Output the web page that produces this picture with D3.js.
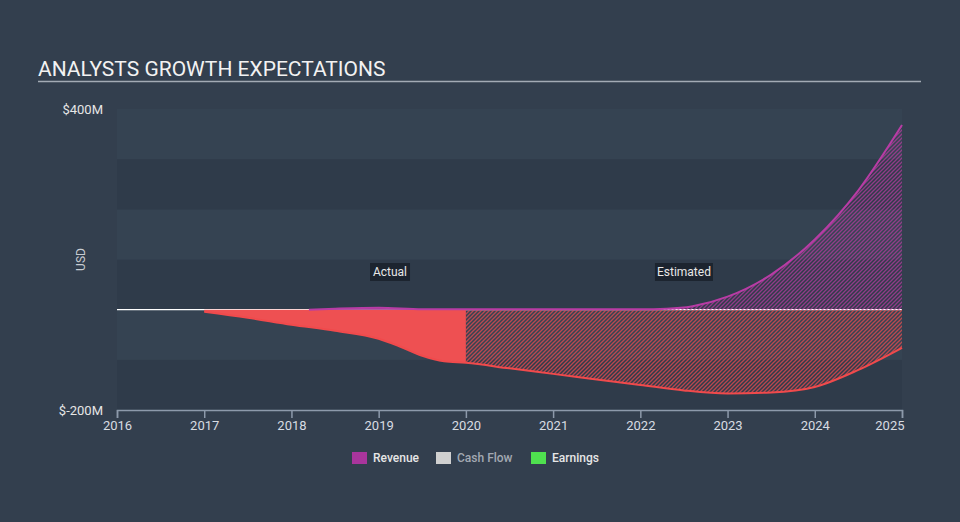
<!DOCTYPE html>
<html><head><meta charset="utf-8">
<script src="https://cdn.jsdelivr.net/npm/d3@7"></script>
<style>
html,body{margin:0;padding:0;background:#333f4e;}
svg{display:block;font-family:Roboto,"Open Sans",sans-serif;}
</style></head>
<body>
<svg id="chart" width="960" height="522"></svg>
<script>
// ---- data ----
const yearTicks = [2016,2017,2018,2019,2020,2021,2022,2023,2024,2025];
const yTickValues = [-200, 400];
const yTickLabels = ["$-200M", "$400M"];
const earningsActualYears  = [2017.0,2017.5,2018.0,2018.5,2019.0,2019.25,2019.5,2019.75,2020.0];
const earningsActualValues = [-4,-16,-30,-42,-58,-74,-92,-103,-106];
const earningsEstYears  = [2020.0,2020.5,2021.0,2021.5,2022.0,2022.5,2023.0,2023.5,2024.0,2024.5,2025.0];
const earningsEstValues = [-106,-117,-128,-139,-150,-161,-167,-165,-154,-120,-76];
const revenueActualYears  = [2018.2,2018.5,2019.0,2019.5,2020.0];
const revenueActualValues = [0,2,4,1,1];
const revenueEstYears  = [2020.0,2020.5,2021.0,2021.5,2022.0,2022.3,2022.6,2023.0,2023.5,2024.0,2024.5,2025.0];
const revenueEstValues = [1,1,1,1,1,2,7,26,70,140,238,368];
const legendItems = ["Revenue","Cash Flow","Earnings"];
const legendColors = ["#a9359c","#d0d0d0","#4fe04f"];

const svg = d3.select("#chart");
const x = d3.scaleLinear().domain([2016, 2025]).range([117, 902]);
const y = d3.scaleLinear().domain([-200, 400]).range([410, 109]);

// plot background bands
const bandEdges = d3.range(-200, 400, 100);
svg.append("g").selectAll("rect").data(bandEdges).join("rect")
  .attr("x", x(2016)).attr("width", x(2025) - x(2016))
  .attr("y", d => y(d + 100)).attr("height", d => y(d) - y(d + 100))
  .attr("fill", (d, i) => (i % 2 === 0) ? "#2f3b4a" : "#354352");

// patterns
const defs = svg.append("defs");
function hatch(id, color) {
  const p = defs.append("pattern").attr("id", id).attr("patternUnits", "userSpaceOnUse")
    .attr("width", 4).attr("height", 4);
  p.append("path").attr("d", "M-1,1 l2,-2 M0,4 l4,-4 M3,5 l2,-2")
    .attr("stroke", color).attr("stroke-width", 1.3).attr("opacity", 0.75);
}
hatch("hatchRed", "#e94a4f");
hatch("hatchPurple", "#b13a9c");

// title
svg.append("text").attr("x", 38).attr("y", 76).attr("fill", "#f2f2f2")
  .attr("font-size", 21).text("ANALYSTS GROWTH EXPECTATIONS");
svg.append("line").attr("x1", 38).attr("x2", 921).attr("y1", 81.5).attr("y2", 81.5)
  .attr("stroke", "#a3abb5").attr("stroke-width", 1.5);

// y labels
svg.append("g").selectAll("text").data(yTickValues).join("text")
  .attr("x", 103).attr("y", d => y(d)).attr("dy", "0.35em")
  .attr("text-anchor", "end").attr("fill", "#e6e6e6").attr("font-size", 13)
  .text((d, i) => yTickLabels[i]);
svg.append("text").attr("transform", `translate(85,${y(100)}) rotate(-90)`)
  .attr("text-anchor", "middle").attr("fill", "#c8ccd2").attr("font-size", 12).text("USD");

// zero line
svg.append("line").attr("x1", x(2016)).attr("x2", x(2025)).attr("y1", y(0)).attr("y2", y(0))
  .attr("stroke", "#ffffff").attr("stroke-width", 1.2);

const curve = d3.curveMonotoneX;
function pts(xs, vs) { return xs.map((d, i) => [d, vs[i]]); }
const area = d3.area().curve(curve).x(d => x(d[0])).y0(y(0)).y1(d => y(d[1]));
const line = d3.line().curve(curve).x(d => x(d[0])).y(d => y(d[1]));

const eA = pts(earningsActualYears, earningsActualValues);
const eE = pts(earningsEstYears, earningsEstValues);
const rA = pts(revenueActualYears, revenueActualValues);
const rE = pts(revenueEstYears, revenueEstValues);

// areas
svg.append("path").datum(eE).attr("d", area).attr("fill", "url(#hatchRed)");
svg.append("path").datum(rE).attr("d", area).attr("fill", "url(#hatchPurple)");
svg.append("path").datum(eA).attr("d", area).attr("fill", "#ee5052");
svg.append("path").datum(rA).attr("d", area).attr("fill", "#9a3490");

// lines
svg.append("path").datum(eA.concat(eE.slice(1))).attr("d", line)
  .attr("fill", "none").attr("stroke", "#f04a4c").attr("stroke-width", 2);
svg.append("path").datum(rA.concat(rE.slice(1))).attr("d", line)
  .attr("fill", "none").attr("stroke", "#b83ca5").attr("stroke-width", 2);

// Actual / Estimated labels
function tag(cx, label, w) {
  const g = svg.append("g");
  g.append("rect").attr("x", cx - w / 2).attr("y", 263).attr("width", w).attr("height", 18)
    .attr("fill", "#1b222c").attr("opacity", 0.9);
  g.append("text").attr("x", cx).attr("y", 272).attr("dy", "0.35em").attr("text-anchor", "middle")
    .attr("fill", "#e8e8e8").attr("font-size", 12).text(label);
}
tag(x(2019.13), "Actual", 40);
tag(x(2022.5), "Estimated", 58);

// x axis
const axis = d3.axisBottom(x).tickValues(yearTicks).tickFormat(d3.format("d"))
  .tickSize(8).tickSizeOuter(8).tickPadding(3);
const gx = svg.append("g").attr("transform", `translate(0,${y(-200)})`).call(axis);
gx.selectAll("path,line").attr("stroke", "#8d9aab").attr("stroke-width", 1.5);
gx.selectAll("text").attr("fill", "#d8dce2").attr("font-size", 13).attr("font-family", "Roboto,sans-serif");
gx.selectAll(".tick").filter(d => d === 2025).select("text").attr("text-anchor", "end").attr("dx", 2);

// legend
const lx = [352, 436, 531];
const lg = svg.append("g").selectAll("g").data(legendItems).join("g")
  .attr("transform", (d, i) => `translate(${lx[i]},452)`);
lg.append("rect").attr("width", 15).attr("height", 12).attr("fill", (d, i) => legendColors[i]);
lg.append("text").attr("x", 21).attr("y", 6).attr("dy", "0.35em").attr("font-size", 12)
  .attr("font-weight", 500)
  .attr("fill", (d, i) => i === 1 ? "#a3a9b2" : "#e6e6e6").text(d => d);
</script>
</body></html>
